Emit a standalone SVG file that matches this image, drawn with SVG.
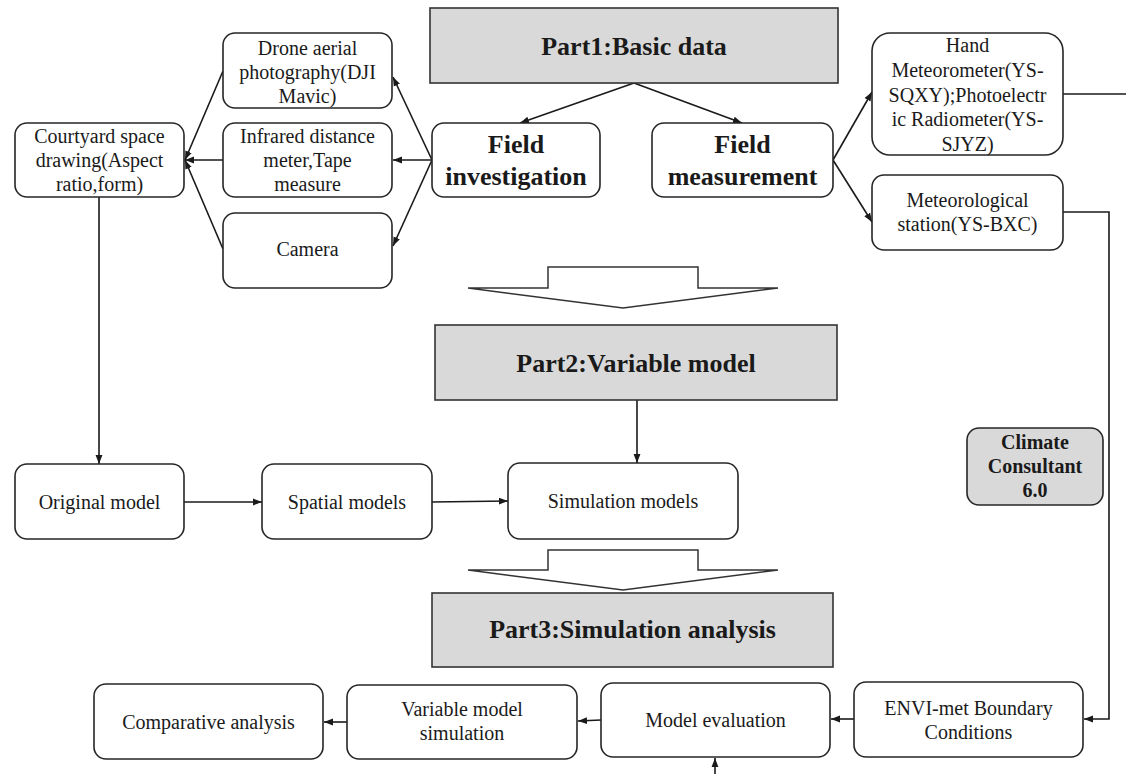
<svg xmlns="http://www.w3.org/2000/svg" width="1126" height="774" viewBox="0 0 1126 774">
  <style>
    .box { fill: #ffffff; stroke: #262626; stroke-width: 1.6; }
    .part { fill: #d9d9d9; stroke: #333333; stroke-width: 1.6; }
    .soft { fill: #d9d9d9; stroke: #262626; stroke-width: 1.6; }
    .hollow { fill: #ffffff; stroke: #333333; stroke-width: 1.5; stroke-linejoin: miter; }
    .t { font-family: "Liberation Serif", "Times New Roman", serif; font-size: 20px; text-anchor: middle; fill: #1a1a1a; }
    .b { font-weight: bold; font-size: 26px; }
    .bs { font-weight: bold; font-size: 20px; }
    .c { stroke: #1a1a1a; stroke-width: 1.6; fill: none; }
    .a { marker-end: url(#ah); }
  </style>
  <defs>
    <marker id="ah" viewBox="0 0 10 10" refX="10" refY="5" markerWidth="9" markerHeight="9" markerUnits="userSpaceOnUse" orient="auto">
      <path d="M0,1.2 L10,5 L0,8.8 Z" fill="#1a1a1a"/>
    </marker>
  </defs>
  <rect width="1126" height="774" fill="#ffffff"/>

  <!-- connectors -->
  <g id="connectors">
    <line class="c a" x1="634" y1="83" x2="520" y2="123"/>
    <line class="c a" x1="634" y1="83" x2="742" y2="123"/>
    <line class="c a" x1="432" y1="160" x2="393" y2="77"/>
    <line class="c a" x1="432" y1="160" x2="393" y2="160"/>
    <line class="c a" x1="432" y1="160" x2="393" y2="246"/>
    <line class="c a" x1="223" y1="71" x2="185" y2="160"/>
    <line class="c a" x1="223" y1="160" x2="185" y2="160"/>
    <line class="c a" x1="223" y1="249" x2="185" y2="160"/>
    <line class="c a" x1="833" y1="160" x2="872" y2="92"/>
    <line class="c a" x1="833" y1="160" x2="872" y2="222"/>
    <line class="c" x1="1063" y1="94" x2="1126" y2="94"/>
    <polyline class="c a" points="1063,212 1109,212 1109,719 1084,719"/>
    <line class="c a" x1="99" y1="197" x2="99" y2="464"/>
    <line class="c a" x1="184" y1="502" x2="262" y2="502"/>
    <line class="c a" x1="432" y1="502" x2="508" y2="501"/>
    <line class="c a" x1="637" y1="400" x2="637" y2="463"/>
    <line class="c a" x1="854" y1="719" x2="831" y2="719"/>
    <line class="c a" x1="601" y1="720" x2="578" y2="721"/>
    <line class="c a" x1="347" y1="722" x2="324" y2="722"/>
    <line class="c a" x1="715" y1="774" x2="715" y2="758"/>
  </g>

  <!-- hollow block arrows between the parts -->
  <g id="flow1">
    <path class="hollow" d="M548,267 H698 V288 H778 L623,308 L468,288 H548 Z"/>
  </g>
  <g id="flow2">
    <path class="hollow" d="M548,550 H698 V570 H778 L623,590 L468,570 H548 Z"/>
  </g>

  <!-- Part 1 -->
  <g id="part1">
    <rect class="part" x="430" y="8" width="408" height="75"/>
    <text class="t b" x="634" y="55">Part1:Basic data</text>
  </g>
  <g id="drone">
    <rect class="box" x="223" y="33" width="169" height="75" rx="12"/>
    <text class="t" x="307.5" y="54.5">Drone aerial</text>
    <text class="t" x="307.5" y="78.5">photography(DJI</text>
    <text class="t" x="307.5" y="102.5">Mavic)</text>
  </g>
  <g id="courtyard">
    <rect class="box" x="15" y="123" width="169" height="74" rx="12"/>
    <text class="t" x="99.5" y="143">Courtyard space</text>
    <text class="t" x="99.5" y="167">drawing(Aspect</text>
    <text class="t" x="99.5" y="191">ratio,form)</text>
  </g>
  <g id="infrared">
    <rect class="box" x="223" y="123" width="169" height="74" rx="12"/>
    <text class="t" x="307.5" y="143">Infrared distance</text>
    <text class="t" x="307.5" y="167">meter,Tape</text>
    <text class="t" x="307.5" y="191">measure</text>
  </g>
  <g id="camera">
    <rect class="box" x="223" y="213" width="169" height="75" rx="12"/>
    <text class="t" x="307.5" y="256">Camera</text>
  </g>
  <g id="field-investigation">
    <rect class="box" x="432" y="123" width="168" height="74" rx="12"/>
    <text class="t b" x="516" y="153">Field</text>
    <text class="t b" x="516" y="185">investigation</text>
  </g>
  <g id="field-measurement">
    <rect class="box" x="652" y="123" width="181" height="74" rx="12"/>
    <text class="t b" x="742.5" y="153">Field</text>
    <text class="t b" x="742.5" y="185">measurement</text>
  </g>
  <g id="hand-meteorometer">
    <rect class="box" x="872" y="33" width="191" height="122" rx="18"/>
    <text class="t" x="967.5" y="52">Hand</text>
    <text class="t" x="967.5" y="77">Meteorometer(YS-</text>
    <text class="t" x="967.5" y="101.5">SQXY);Photoelectr</text>
    <text class="t" x="967.5" y="126">ic Radiometer(YS-</text>
    <text class="t" x="967.5" y="150.5">SJYZ)</text>
  </g>
  <g id="meteorological-station">
    <rect class="box" x="872" y="175" width="191" height="75" rx="12"/>
    <text class="t" x="967.5" y="207">Meteorological</text>
    <text class="t" x="967.5" y="231">station(YS-BXC)</text>
  </g>

  <!-- Part 2 -->
  <g id="part2">
    <rect class="part" x="435" y="325" width="402" height="75"/>
    <text class="t b" x="636" y="372">Part2:Variable model</text>
  </g>
  <g id="original-model">
    <rect class="box" x="15" y="464" width="169" height="75" rx="12"/>
    <text class="t" x="99.5" y="508.5">Original model</text>
  </g>
  <g id="spatial-models">
    <rect class="box" x="262" y="464" width="170" height="75" rx="12"/>
    <text class="t" x="347" y="508.5">Spatial models</text>
  </g>
  <g id="simulation-models">
    <rect class="box" x="508" y="463" width="230" height="76" rx="12"/>
    <text class="t" x="623" y="508">Simulation models</text>
  </g>
  <g id="climate-consultant">
    <rect class="soft" x="967" y="428" width="136" height="77" rx="12"/>
    <text class="t bs" x="1035" y="449">Climate</text>
    <text class="t bs" x="1035" y="473">Consultant</text>
    <text class="t bs" x="1035" y="497">6.0</text>
  </g>

  <!-- Part 3 -->
  <g id="part3">
    <rect class="part" x="432" y="593" width="401" height="74"/>
    <text class="t b" x="632.5" y="638">Part3:Simulation analysis</text>
  </g>
  <g id="comparative-analysis">
    <rect class="box" x="94" y="684" width="229" height="75" rx="12"/>
    <text class="t" x="208.5" y="728.5">Comparative analysis</text>
  </g>
  <g id="variable-model-simulation">
    <rect class="box" x="347" y="685" width="230" height="74" rx="12"/>
    <text class="t" x="462" y="716">Variable model</text>
    <text class="t" x="462" y="740">simulation</text>
  </g>
  <g id="model-evaluation">
    <rect class="box" x="601" y="683" width="229" height="74" rx="12"/>
    <text class="t" x="715.5" y="727">Model evaluation</text>
  </g>
  <g id="envi-met">
    <rect class="box" x="854" y="682" width="229" height="75" rx="12"/>
    <text class="t" x="968.5" y="715">ENVI-met Boundary</text>
    <text class="t" x="968.5" y="739">Conditions</text>
  </g>
</svg>
